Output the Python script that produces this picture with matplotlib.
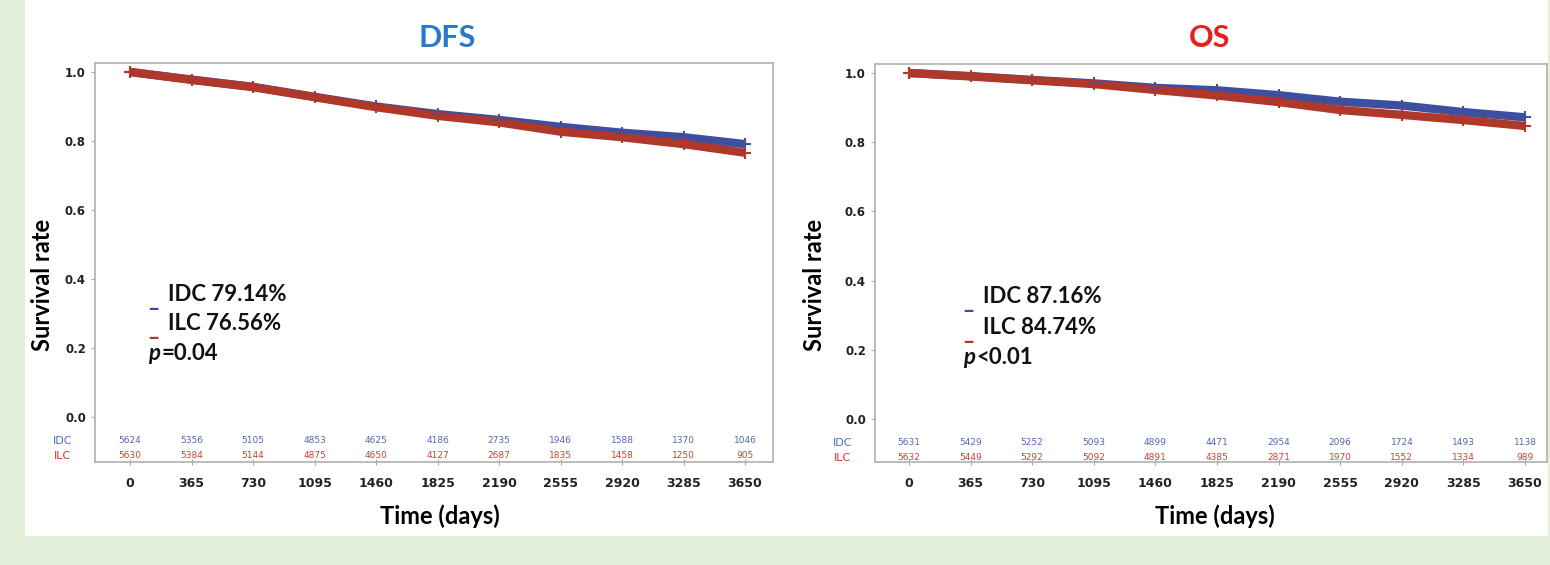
import matplotlib.pyplot as plt
from matplotlib.patches import Rectangle
import numpy as np

plt.rcParams['font.family'] = ['Lato', 'DejaVu Sans']

# survival curves (days, survival)
days = [0, 365, 730, 1095, 1460, 1825, 2190, 2555, 2920, 3285, 3650]
dfs_idc = [1.0, 0.978, 0.957, 0.928, 0.900, 0.878, 0.861, 0.841, 0.824, 0.811, 0.791]
dfs_ilc = [1.0, 0.977, 0.956, 0.927, 0.898, 0.873, 0.854, 0.827, 0.811, 0.791, 0.766]
os_idc = [1.0, 0.991, 0.980, 0.970, 0.957, 0.950, 0.936, 0.917, 0.906, 0.887, 0.872]
os_ilc = [1.0, 0.990, 0.979, 0.968, 0.951, 0.935, 0.916, 0.893, 0.879, 0.864, 0.847]

# numbers at risk
dfs_risk_idc = [5624, 5356, 5105, 4853, 4625, 4186, 2735, 1946, 1588, 1370, 1046]
dfs_risk_ilc = [5630, 5384, 5144, 4875, 4650, 4127, 2687, 1835, 1458, 1250, 905]
os_risk_idc = [5631, 5429, 5252, 5093, 4899, 4471, 2954, 2096, 1724, 1493, 1138]
os_risk_ilc = [5632, 5449, 5292, 5092, 4891, 4385, 2871, 1970, 1552, 1334, 989]

BLUE = '#3d4f9e'
RED = '#b0382b'

fig = plt.figure(figsize=(15.5, 5.65), dpi=100, facecolor='#e2eed8')
fig.patches.append(Rectangle((25 / 1550, 1 - 536 / 565), 1523 / 1550, 536 / 565,
                             transform=fig.transFigure, facecolor='white',
                             edgecolor='none', zorder=-10))


def km_panel(rect, xlim, ylim, idc, ilc, r_idc, r_ilc, title, tcolor, tx, lines):
    ax = fig.add_axes(rect)
    ax.plot(days, idc, color=BLUE, lw=6, solid_capstyle='butt')
    ax.plot(days, ilc, color=RED, lw=6, solid_capstyle='butt')
    ax.plot(days, idc, '+', color=BLUE, ms=8, mew=1.5)
    ax.plot(days, ilc, '+', color=RED, ms=8, mew=1.5)
    ax.set_xlim(*xlim)
    ax.set_ylim(*ylim)
    ax.set_xticks(days)
    ax.set_xticklabels([str(d) for d in days], fontweight='bold', fontsize=9, color='#222',
                       family='DejaVu Sans')
    ax.set_yticks([0, 0.2, 0.4, 0.6, 0.8, 1.0])
    ax.set_yticklabels(['0.0', '0.2', '0.4', '0.6', '0.8', '1.0'], fontweight='bold',
                       fontsize=8.5, color='#222', family='DejaVu Sans')
    ax.tick_params(axis='x', direction='inout', length=5, color='#aaa', pad=8)
    ax.tick_params(axis='y', direction='out', length=3, color='#aaa')
    for s in ax.spines.values():
        s.set_color('#b0b0b0')
        s.set_linewidth(1.2)
    for d, a, b in zip(days, r_idc, r_ilc):
        ax.text(d, -0.068, str(a), color='#5565b5', fontsize=6.5, ha='center', va='center',
                family='DejaVu Sans')
        ax.text(d, -0.112, str(b), color='#c0453a', fontsize=6.5, ha='center', va='center',
                family='DejaVu Sans')
    ax.text(-0.048, -0.068, 'IDC', color='#4a6fc0', fontsize=8, ha='center', va='center',
            transform=ax.get_yaxis_transform(), family='DejaVu Sans')
    ax.text(-0.048, -0.112, 'ILC', color='#e03025', fontsize=8, ha='center', va='center',
            transform=ax.get_yaxis_transform(), family='DejaVu Sans')
    fig.text(tx, 1 - 38 / 565, title, color=tcolor, fontsize=22, fontweight='bold',
             ha='center', va='center')
    (x0, x1, ys, txts, ptxt) = lines
    for y, (dash, txt) in zip(ys[:2], txts):
        ax.text(x0, y - 0.015, '_', color=dash, fontsize=16, fontweight='bold',
                transform=ax.transAxes, va='center')
        ax.text(x1, y, txt, fontsize=16, fontweight='bold',
                transform=ax.transAxes, va='center', color='#111')
    ax.text(x0, ys[2], 'p', fontsize=16, fontweight='bold', fontstyle='italic',
            transform=ax.transAxes, va='center', color='#111')
    ax.annotate(ptxt, xy=(x0, ys[2]), xycoords='axes fraction', xytext=(9.5, 0),
                textcoords='offset points', fontsize=16, fontweight='bold',
                va='center', color='#111')
    return ax


left = km_panel([95 / 1550, 1 - 462 / 565, 678 / 1550, 399 / 565], (-208, 3816), (-0.130, 1.026),
                dfs_idc, dfs_ilc, dfs_risk_idc, dfs_risk_ilc, 'DFS', '#2a78c8', 447 / 1550,
                (0.078, 0.107, [0.419, 0.348, 0.272],
                 [(BLUE, 'IDC 79.14%'), (RED, 'ILC 76.56%')], '=0.04'))
right = km_panel([875 / 1550, 1 - 462 / 565, 672 / 1550, 398 / 565], (-201, 3780), (-0.124, 1.026),
                 os_idc, os_ilc, os_risk_idc, os_risk_ilc, 'OS', '#e8201a', 1210 / 1550,
                 (0.131, 0.161, [0.415, 0.339, 0.262],
                  [(BLUE, 'IDC 87.16%'), (RED, 'ILC 84.74%')], '<0.01'))

for x in (42, 815):
    fig.text(x / 1550, 1 - 285 / 565, 'Survival rate', rotation=90, fontsize=17,
             fontweight='bold', ha='center', va='center')
for x in (440, 1215):
    fig.text(x / 1550, 1 - 516 / 565, 'Time (days)', fontsize=17, fontweight='bold',
             ha='center', va='center')

plt.savefig('out.png', dpi=100, facecolor=fig.get_facecolor())
